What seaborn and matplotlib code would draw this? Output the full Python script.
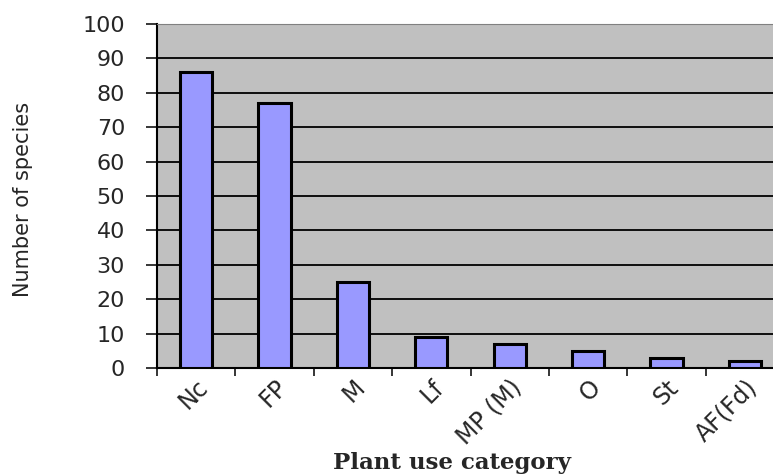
import numpy as np
import pandas as pd
import matplotlib
matplotlib.use("Agg")
import matplotlib.pyplot as plt
import matplotlib.transforms as mtransforms
import seaborn as sns

# values
categories = ['Nc', 'FP', 'M', 'Lf', 'MP (M)', 'O', 'St', 'AF(Fd)']
species = [86, 77, 25, 9, 7, 5, 3, 2]
yticks = list(range(0, 101, 10))


def main():
    sns.set_style("white")
    plt.rcParams['font.family'] = ['DejaVu Sans']

    dfrm = pd.DataFrame({'category': categories, 'species': species})

    fig = plt.figure(figsize=(7.73, 4.75), dpi=100)
    # plot area runs past the right edge, as in the cropped original
    axes = fig.add_axes([157 / 773, 107 / 475, 627 / 773, 344 / 475])
    axes.set_facecolor('#C0C0C0')

    sns.barplot(data=dfrm, x='category', y='species', ax=axes,
                color='#9999FF', saturation=1, width=0.41,
                edgecolor='black', linewidth=2.2, zorder=3)

    axes.set_ylim(0, 100)
    axes.set_xlim(-0.5, len(categories) - 0.5)
    axes.set_yticks(yticks)
    axes.set_yticklabels([str(t) for t in yticks], fontsize=16)
    axes.yaxis.grid(True, color='black', linewidth=1.3, zorder=1)
    axes.set_axisbelow(True)

    # labels at the centres, tick marks at the category boundaries
    axes.set_xticks(range(len(categories)))
    axes.set_xticklabels(categories, rotation=45, ha='right',
                         rotation_mode='anchor', fontsize=17)
    shift = mtransforms.ScaledTranslation(10 / 100, 0, fig.dpi_scale_trans)
    for lbl in axes.get_xticklabels():
        lbl.set_transform(lbl.get_transform() + shift)
    axes.set_xticks(np.arange(-0.5, len(categories), 1.0), minor=True)
    axes.tick_params(axis='x', which='major', length=0, pad=5)
    axes.tick_params(axis='x', which='minor', length=6, width=1.3,
                     direction='out', bottom=True)
    axes.tick_params(axis='y', length=8, width=1.3, direction='out',
                     left=True, pad=15)

    for side in ['left', 'bottom']:
        axes.spines[side].set_color('black')
        axes.spines[side].set_linewidth(1.5)
    axes.spines['top'].set_color('#808080')
    axes.spines['right'].set_visible(False)

    axes.set_ylabel('Number of species', fontsize=15)
    axes.set_xlabel('Plant use category', fontsize=16.5, fontweight='bold',
                    family='DejaVu Serif')
    axes.yaxis.set_label_coords((33 - 157) / 627, 0.49)
    axes.xaxis.set_label_coords((452 - 157) / 627, (368 - 452) / 344)

    fig.savefig('out.png', dpi=100)


if (__name__ == "__main__"):
    main()
